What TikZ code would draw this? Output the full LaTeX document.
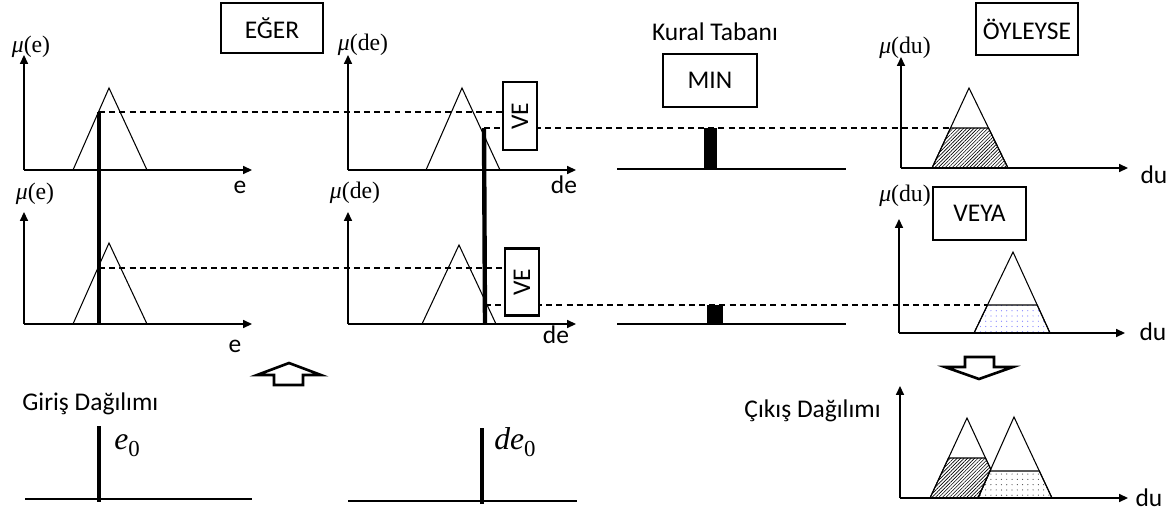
\documentclass[tikz,border=0pt]{standalone}
\usepackage{fontspec}
\newfontfamily\calibri{Carlito}
\newfontfamily\cambria{Liberation Serif}
\usetikzlibrary{positioning,calc,arrows.meta,patterns.meta}

\newcommand{\muf}[1]{{\itshape μ}(#1)}
\newcommand{\sifir}[1]{{\itshape #1}\raisebox{-4.5pt}{\fontsize{13}{15}\selectfont 0}}

\tikzset{
	yazi/.style={font=\calibri\fontsize{14.5}{17}\selectfont, inner sep=0pt},
	etiket/.style={font=\cambria\fontsize{13.5}{16}\selectfont, inner sep=0pt},
	deger/.style={font=\cambria\fontsize{18}{21}\selectfont, inner sep=0pt, anchor=base west},
	kutu/.style={draw, line width=1.6pt, fill=white, inner sep=0pt, font=\calibri\fontsize{14.5}{17}\selectfont},
	eksen/.style={-{Triangle[length=5pt,width=4.5pt]}, line width=0.85pt},
	uyelik/.style={line width=0.6pt, line join=miter},
	kesik/.style={line width=0.7pt, dash pattern=on 3.4pt off 2.4pt},
	cubuk/.style={line width=2.5pt},
	taban/.style={line width=0.85pt},
	blok/.style={line width=1.5pt, fill=white, line join=miter},
	tarali/.style={pattern={Lines[angle=45, distance=1.4pt, line width=0.35pt]}},
	noktali/.style={pattern={Dots[distance=3pt, radius=0.35pt]}, pattern color=#1},
	noktali/.default=black!70
}

\begin{document}
\begin{tikzpicture}[x=0.02cm, y=-0.02cm]
	\useasboundingbox (0,0) rectangle (1174,511);

	\coordinate (e1) at (99,112);
	\coordinate (e2) at (99,268);
	\coordinate (d1) at (484,128);
	\coordinate (d2) at (485,305);
	\coordinate (ve1) at (520,116);
	\coordinate (ve2) at (522,282);
	\coordinate (k1) at (950.5,128);
	\coordinate (k2) at (987.5,305);

	\draw[kesik] (e1) -- (e1 -| ve1);
	\draw[kesik] (e2) -- (e2 -| ve2);
	\draw[kesik] (d1) -- (k1);
	\draw[kesik] (d2) -- (k2);

	\draw[eksen] (24,170) -- (252,170);
	\draw[eksen] (24,170) -- (24,55);
	\draw[uyelik] (73,170) -- (109,88) -- (147,170);
	\draw[eksen] (24,324) -- (252,324);
	\draw[eksen] (24,324) -- (24,212);
	\draw[uyelik] (73,324) -- (109,243) -- (147,324);
	\draw[cubuk] (e1) -- (99,324);
	\node (mue1) at (31,47) [etiket] {\muf{e}};
	\node (mue2) at (35,194) [etiket] {\muf{e}};
	\node (ex1) at (240,193) [yazi, anchor=base] {e};
	\node (ex2) at (235,352) [yazi, anchor=base] {e};
	\node (eger) at (272,28) [kutu, minimum width=2.04cm, minimum height=1cm] {EĞER};

	\draw[eksen] (348,170) -- (576,170);
	\draw[eksen] (348,170) -- (348,55);
	\draw[uyelik] (426,170) -- (462,88) -- (500,170);
	\draw[eksen] (348,324) -- (576,324);
	\draw[eksen] (348,324) -- (348,212);
	\draw[uyelik] (422,324) -- (459,245) -- (496,324);
	\draw[cubuk] (d1) -- (485,324);
	\node (mude1) at (363,45) [etiket] {\muf{de}};
	\node (mude2) at (355,193) [etiket] {\muf{de}};
	\node (dex1) at (564,193) [yazi, anchor=base] {de};
	\node (dex2) at (556,343) [yazi, anchor=base] {de};
	\node (vekutu1) at (ve1) [kutu, rotate=90, minimum width=1.36cm, minimum height=0.68cm] {VE};
	\node (vekutu2) at (ve2) [kutu, rotate=90, minimum width=1.34cm, minimum height=0.68cm] {VE};

	\node (kural) at (715,40) [yazi, anchor=base] {Kural Tabanı};
	\node (min) at (710,80.5) [kutu, minimum width=1.88cm, minimum height=1.06cm] {MIN};
	\draw[taban] (617,169) -- (846,169);
	\fill (704,128) rectangle (717,169);
	\draw[taban] (617,324) -- (846,324);
	\fill (707,305) rectangle (723,324);

	\draw[uyelik, tarali] (932,168) -- (k1) -- (988.5,128) -- (1008,168) -- cycle;
	\draw[uyelik] (932,168) -- (969,88) -- (1008,168);
	\draw[eksen] (901,168) -- (1128,168);
	\draw[eksen] (901,168) -- (901,57);
	\draw[uyelik, noktali=blue!50] (974,333) -- (k2) -- (1037.2,305) -- (1050,333) -- cycle;
	\draw[uyelik] (974,333) -- (1013,252) -- (1050,333);
	\draw[eksen] (899,333) -- (1125,333);
	\draw[eksen] (899,333) -- (899,219);
	\node (mudu1) at (905,48) [etiket] {\muf{du}};
	\node (mudu2) at (905,196) [etiket] {\muf{du}};
	\node (dux1) at (1154,183) [yazi, anchor=base] {du};
	\node (dux2) at (1153,340) [yazi, anchor=base] {du};
	\node (oyleyse) at (1027,29) [kutu, minimum width=2.04cm, minimum height=1.04cm] {ÖYLEYSE};
	\node (veya) at (979.5,213.5) [kutu, minimum width=1.86cm, minimum height=1.06cm] {VEYA};

	\node (giris) at (22,410) [yazi, anchor=base west] {Giriş Dağılımı};
	\draw[taban] (25,499) -- (252,499);
	\draw[cubuk] (99,426) -- (99,502);
	\node (e0) at (114,449) [deger] {\sifir{e}};
	\draw[taban] (348,501) -- (577,501);
	\draw[cubuk] (482,428) -- (482,504);
	\node (de0) at (494,449) [deger] {\sifir{de}};

	\node (cikis) at (881,417) [yazi, anchor=base east] {Çıkış Dağılımı};
	\draw[uyelik, tarali] (930,498) -- (948.5,458) -- (985.5,458) -- (990.8,469.4) -- (978,498) -- cycle;
	\draw[uyelik, noktali] (978,498) -- (990,471) -- (1039.3,471) -- (1052,498) -- cycle;
	\draw[uyelik] (930,498) -- (967,418) -- (990.8,469.4);
	\draw[uyelik] (978,498) -- (1014,417) -- (1052,498);
	\draw[eksen] (900,498) -- (1128,498);
	\draw[eksen] (900,498) -- (900,386);
	\node (dux3) at (1149,506) [yazi, anchor=base] {du};

	\draw[blok] (289,363) -- (321,375) -- (303,375) -- (303,385) -- (274,385) -- (274,375) -- (257,375) -- cycle;
	\draw[blok] (979,379) -- (1013,367) -- (994,367) -- (994,357) -- (965,357) -- (965,367) -- (945,367) -- cycle;
\end{tikzpicture}
\end{document}
